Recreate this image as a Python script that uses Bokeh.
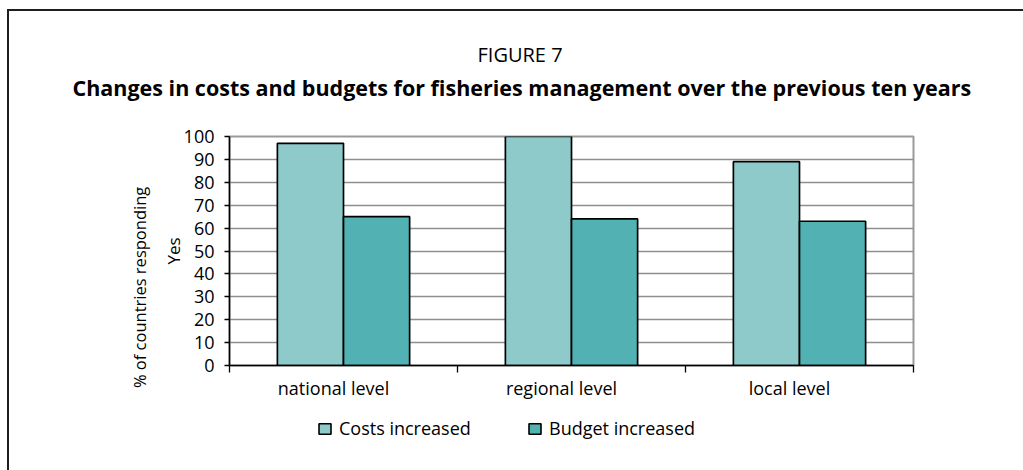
import numpy as np
from bokeh.plotting import figure
from bokeh.layouts import column
from bokeh.models import (ColumnDataSource, Range1d, FixedTicker, LinearAxis, Title,
                          Legend, LegendItem, CustomJSTickFormatter, InlineStyleSheet)
from bokeh.transform import dodge
from bokeh.embed import file_html
from bokeh.resources import INLINE

categories = ["national level", "regional level", "local level"]
costs_increased = [97, 100, 89]
budget_increased = [65, 64, 63]
y_ticks = [0, 10, 20, 30, 40, 50, 60, 70, 80, 90, 100]
series_names = ["Costs increased", "Budget increased"]
title_top = "FIGURE 7"
title_main = "Changes in costs and budgets for fisheries management over the previous ten years"
y_title = "% of countries responding"
y_title2 = "Yes"

FONT = "Open Sans"
C_COSTS = "#8ECACA"
C_BUDGET = "#52B2B3"
FS = "18px"

src = ColumnDataSource(dict(
    xc=np.arange(len(categories)) + 0.5,
    costs=costs_increased,
    budget=budget_increased,
))

# ---------------- main chart ----------------
p = figure(width=1014, height=399, output_backend="svg", toolbar_location=None,
           title=None,
           x_range=Range1d(0, len(categories)), y_range=Range1d(0, 100),
           min_border_left=220, min_border_right=110, min_border_top=125,
           min_border_bottom=45)

p.outline_line_color = "#9a9a9a"
p.outline_line_width = 2
p.background_fill_color = "white"
p.border_fill_color = "white"

bw = 0.29
r1 = p.vbar(x=dodge("xc", -bw / 2), width=bw, top="costs", bottom=0, source=src,
            fill_color=C_COSTS, line_color="black", line_width=1.7)
r2 = p.vbar(x=dodge("xc", bw / 2), width=bw, top="budget", bottom=0, source=src,
            fill_color=C_BUDGET, line_color="black", line_width=1.7)

p.xgrid.visible = False
p.ygrid.ticker = FixedTicker(ticks=y_ticks)
p.ygrid.grid_line_color = "#8f8f8f"
p.ygrid.grid_line_width = 1.3

# inner y axis with ticks and "Yes"
p.yaxis.ticker = FixedTicker(ticks=y_ticks)
p.yaxis.axis_line_color = "black"
p.yaxis.axis_line_width = 1.5
p.yaxis.major_tick_line_color = "black"
p.yaxis.major_tick_line_width = 1.3
p.yaxis.major_tick_in = 0
p.yaxis.major_tick_out = 5
p.yaxis.minor_tick_line_color = None
p.yaxis.major_label_text_font = FONT
p.yaxis.major_label_text_font_size = FS
p.yaxis.major_label_text_color = "black"
p.yaxis.major_label_standoff = 10
p.yaxis.axis_label = y_title2
p.yaxis.axis_label_text_font = FONT
p.yaxis.axis_label_text_font_size = "17px"
p.yaxis.axis_label_text_font_style = "normal"
p.yaxis.axis_label_text_color = "black"
p.yaxis.axis_label_standoff = -4

# outer y axis carrying only the long title
pad = "\u00a0" * 17
y2 = LinearAxis(ticker=FixedTicker(ticks=[]), axis_line_color=None,
                major_tick_line_color=None, minor_tick_line_color=None,
                major_tick_out=0, major_label_standoff=0,
                axis_label=y_title + pad, axis_label_text_font=FONT,
                axis_label_text_font_size="16.5px", axis_label_text_font_style="normal",
                axis_label_text_color="black", axis_label_standoff=8)
p.add_layout(y2, "left")

# x axis: boundary ticks as minor ticks, category names as major labels
nc = len(categories)
shift = 10 / 228.0
p.xaxis.ticker = FixedTicker(ticks=[i + 0.5 - shift for i in range(nc)],
                             minor_ticks=list(range(nc + 1)))
p.xaxis.formatter = CustomJSTickFormatter(args=dict(cats=categories),
                                          code="return cats[index]")
p.xaxis.axis_line_color = "black"
p.xaxis.axis_line_width = 1.5
p.xaxis.major_tick_line_color = None
p.xaxis.major_tick_in = 0
p.xaxis.major_tick_out = 7
p.xaxis.minor_tick_line_color = "black"
p.xaxis.minor_tick_line_width = 1.3
p.xaxis.minor_tick_in = 0
p.xaxis.minor_tick_out = 7
p.xaxis.major_label_text_font = FONT
p.xaxis.major_label_text_font_size = FS
p.xaxis.major_label_text_color = "black"
p.xaxis.major_label_standoff = 3

# invisible spacer axis above the frame, then the two titles
spacer = LinearAxis(ticker=FixedTicker(ticks=[0]), axis_line_color=None,
                    major_tick_line_color=None, minor_tick_line_color=None,
                    major_tick_in=0, major_tick_out=34, minor_tick_out=0,
                    major_label_standoff=0, major_label_overrides={0: ""},
                    major_label_text_font_size="1px")
p.add_layout(spacer, "above")
p.add_layout(Title(text=title_main, align="left", offset=-157, standoff=2,
                   text_font=FONT, text_font_size="21.5px", text_font_style="bold",
                   text_color="black"), "above")
p.add_layout(Title(text=title_top, align="left", offset=248, standoff=3,
                   text_font=FONT, text_font_size="20px", text_font_style="normal",
                   text_color="black"), "above")

# ---------------- legend strip (frame aligned with the chart above) ----------------
q = figure(width=1014, height=60, output_backend="svg", toolbar_location=None,
           title=None, x_range=Range1d(0, len(categories)), y_range=Range1d(0, 1),
           min_border_left=220, min_border_right=110,
           min_border_top=0, min_border_bottom=0)
q.axis.visible = False
q.grid.visible = False
q.outline_line_color = None
q.background_fill_color = "white"
q.border_fill_color = "white"
key_src = ColumnDataSource(dict(x=[np.nan], top=[np.nan]))  # legend keys only
k1 = q.vbar(x="x", top="top", bottom=0, width=bw, source=key_src,
            fill_color=C_COSTS, line_color="black", line_width=1.6)
k2 = q.vbar(x="x", top="top", bottom=0, width=bw, source=key_src,
            fill_color=C_BUDGET, line_color="black", line_width=1.6)
legend = Legend(items=[LegendItem(label=series_names[0], renderers=[k1]),
                       LegendItem(label=series_names[1], renderers=[k2])],
                orientation="horizontal", location=(88, 30),
                glyph_width=15, glyph_height=13, label_standoff=7, spacing=56,
                label_width=132, padding=0, margin=0, border_line_color=None,
                background_fill_alpha=0, label_text_font=FONT,
                label_text_font_size=FS, label_text_color="black")
q.add_layout(legend, "center")

layout = column(p, q, spacing=0)
layout.stylesheets = [InlineStyleSheet(css=(
    ":host { position: fixed !important; left: 7px !important; top: 9px !important; "
    "border-left: 2px solid #1e1e1e; border-top: 2px solid #1e1e1e; "
    "background: white; }"))]

open("out.html", "w").write(file_html(layout, INLINE))
